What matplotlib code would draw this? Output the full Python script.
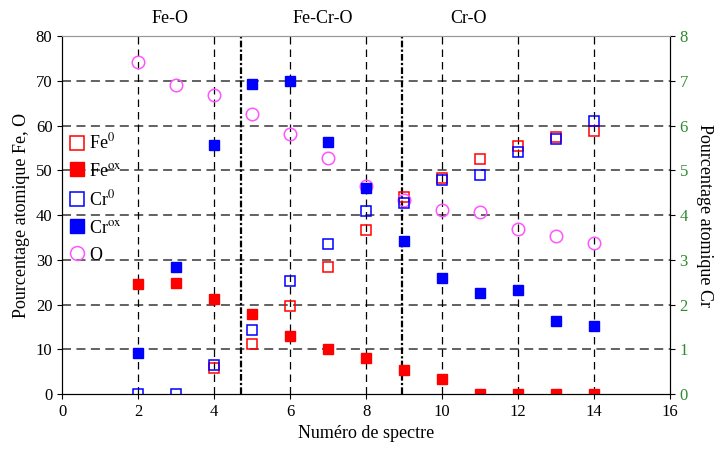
import numpy as np
import matplotlib.pyplot as plt
from matplotlib.lines import Line2D

plt.rcParams['font.family'] = ['Liberation Serif', 'DejaVu Serif']
plt.rcParams['mathtext.fontset'] = 'stix'

# spectre numbers
spectres = [2, 3, 4, 5, 6, 7, 8, 9, 10, 11, 12, 13, 14]

# left axis (Fe, O) in at.%
fe0 = [np.nan, np.nan, 5.8, 11.2, 19.7, 28.4, 36.6, 44.0, 48.3, 52.5, 55.4, 57.4, 58.8]
feox = [24.6, 24.8, 21.2, 17.9, 13.0, 10.0, 8.0, 5.4, 3.4, 0, 0, 0, 0]
o = [74.2, 69.0, 66.8, 62.6, 58.1, 52.7, 46.5, 43.4, 41.1, 40.6, 36.9, 35.3, 33.7]

# right axis (Cr) in at.%
cr0 = [0, 0, 0.65, 1.43, 2.52, 3.35, 4.1, 4.27, 4.78, 4.9, 5.42, 5.7, 6.1]
crox = [0.92, 2.84, 5.56, 6.93, 7.0, 5.63, 4.6, 3.42, 2.59, 2.26, 2.32, 1.63, 1.52]

separations = [4.72, 8.95]
zones = ['Fe-O', 'Fe-Cr-O', 'Cr-O']
zones_x = [2.84, 6.87, 10.7]

fig = plt.figure(figsize=(7.15, 4.5), dpi=100)
ax = fig.add_axes([0.087, 0.124, 0.85, 0.796])
ax2 = ax.twinx()

ms = 7
ax.plot(spectres, fe0, 's', ms=ms, mfc='none', mec='red', mew=1.1, zorder=3)
ax.plot(spectres, feox, 's', ms=ms, color='red', zorder=3)
ax.plot(spectres, o, 'o', ms=9, mfc='none', mec='#ff55ff', mew=1.1, zorder=3)
ax2.plot(spectres, cr0, 's', ms=ms, mfc='none', mec='blue', mew=1.1)
ax2.plot(spectres, crox, 's', ms=ms, color='blue')

ax.set_xlim(0, 16)
ax.set_ylim(0, 80)
ax2.set_ylim(0, 8)
ax.set_xticks(range(0, 17, 2))
ax.set_yticks(range(0, 81, 10))
ax2.set_yticks(range(0, 9))

# grids
for y in range(10, 80, 10):
    ax.axhline(y, color='#555555', ls=(0, (5, 3)), lw=1.3, zorder=1)
for x in range(2, 16, 2):
    ax.axvline(x, color='black', ls=(0, (6, 4)), lw=0.9, zorder=1)
for x in separations:
    ax.axvline(x, color='black', ls=(0, (3, 1, 1, 1)), lw=1.6, zorder=1)

for t, x in zip(zones, zones_x):
    ax.text(x, 82, t, ha='center', va='bottom', fontsize=13, clip_on=False)

ax.spines['top'].set_color('#999999')
ax2.spines['top'].set_color('#999999')
ax.tick_params(labelsize=12, direction='out')
ax2.tick_params(labelsize=12, direction='out', labelcolor='#2e8b2e')

ax.set_xlabel('Numéro de spectre', fontsize=13)
ax.set_ylabel('Pourcentage atomique Fe, O', fontsize=13)
ax2.set_ylabel('Pourcentage atomique Cr', fontsize=13, rotation=270, labelpad=18)

handles = [
    Line2D([], [], ls='none', marker='s', ms=10, mfc='none', mec='red', mew=1.1),
    Line2D([], [], ls='none', marker='s', ms=10, color='red'),
    Line2D([], [], ls='none', marker='s', ms=10, mfc='none', mec='blue', mew=1.1),
    Line2D([], [], ls='none', marker='s', ms=10, color='blue'),
    Line2D([], [], ls='none', marker='o', ms=10, mfc='none', mec='#ff55ff', mew=1.1),
]
labels = [r'Fe$^{0}$', r'Fe$^{\rm ox}$', r'Cr$^{0}$', r'Cr$^{\rm ox}$', 'O']
ax2.legend(handles, labels, loc='upper left', bbox_to_anchor=(-0.015, 0.775),
           frameon=False, fontsize=13, handlelength=0.8, handletextpad=0.3,
           labelspacing=0.55)

fig.savefig('out.png', dpi=100)
